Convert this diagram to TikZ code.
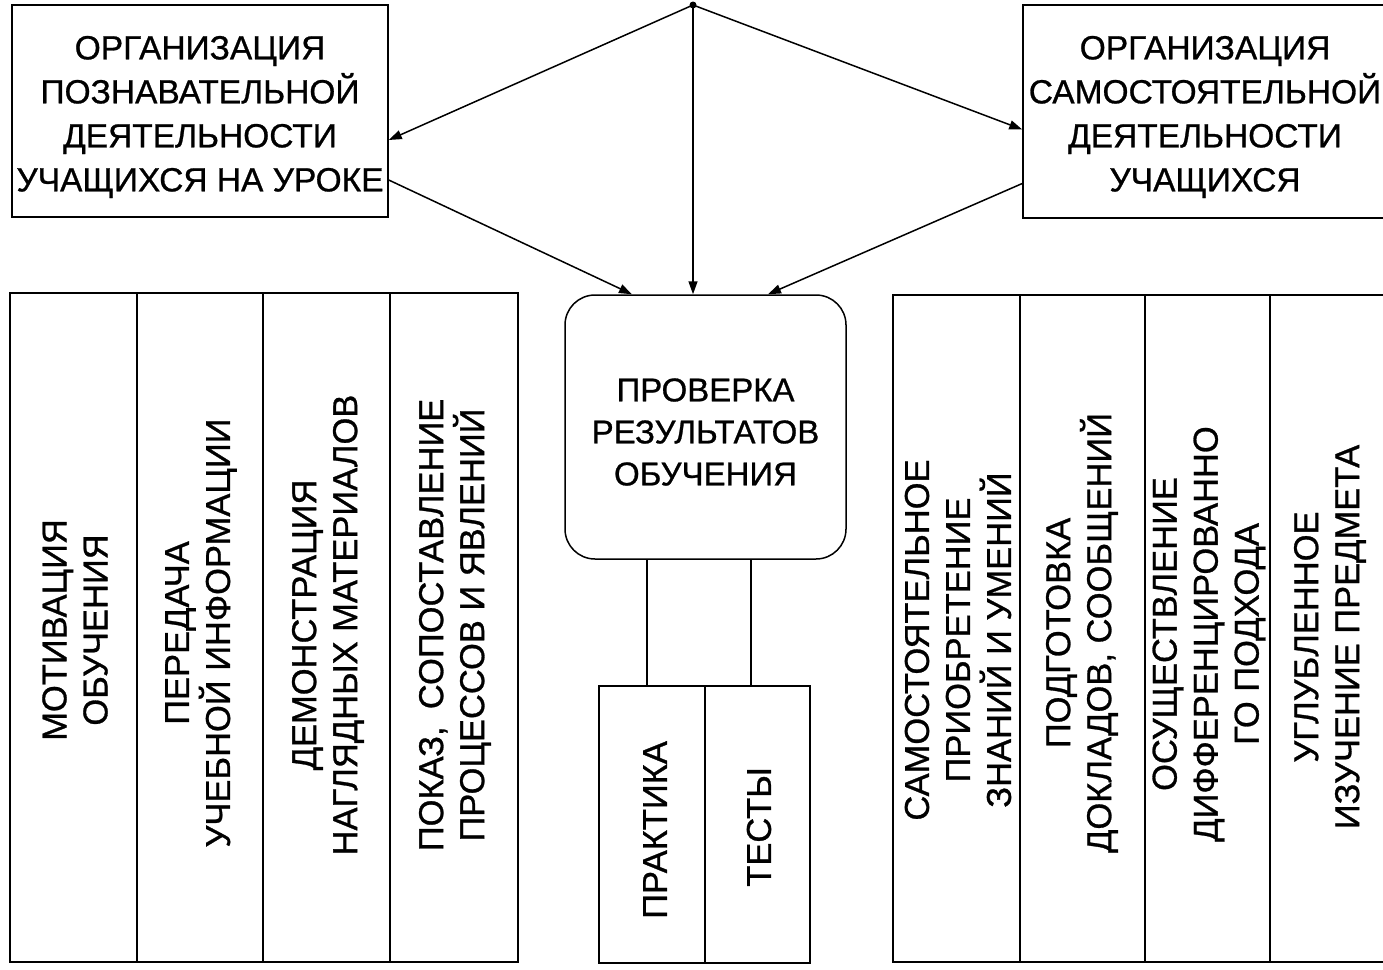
\documentclass[tikz,border=0pt]{standalone}
\usepackage{fontspec}
\setmainfont{Liberation Sans}[FakeBold=0.8]
\usetikzlibrary{arrows.meta}
\begin{document}
\begin{tikzpicture}[x=1pt,y=-1pt,
  box/.style={draw, line width=1.5pt, inner sep=0pt},
  txt/.style={font=\fontsize{33.5}{44}\selectfont, align=center},
  ctxt/.style={font=\fontsize{33}{42}\selectfont, align=center},
  vtxt/.style={font=\fontsize{34.5}{41}\selectfont, align=center, rotate=90, inner sep=0pt},
  conn/.style={line width=1.5pt},
  arr/.style={conn, -{Triangle[length=13pt,width=9pt]}}]
\useasboundingbox (0,0) rectangle (1383,969);
% top boxes
\node[box, minimum width=376pt, minimum height=212pt] (tl) at (200,111) {};
\node[txt] at (200,117) {ОРГАНИЗАЦИЯ\\ПОЗНАВАТЕЛЬНОЙ\\ДЕЯТЕЛЬНОСТИ\\УЧАЩИХСЯ НА УРОКЕ};
\node[box, minimum width=362pt, minimum height=213pt] (tr) at (1204,111.5) {};
\node[txt] at (1205,117) {ОРГАНИЗАЦИЯ\\САМОСТОЯТЕЛЬНОЙ\\ДЕЯТЕЛЬНОСТИ\\УЧАЩИХСЯ};
% origin dot
\coordinate (o) at (693,5);
\fill (o) circle (3.5pt);
% center box
\node[box, rounded corners=30pt, minimum width=281pt, minimum height=264pt] (c) at (705.5,427) {};
\node[ctxt] at (705.5,432) {ПРОВЕРКА\\РЕЗУЛЬТАТОВ\\ОБУЧЕНИЯ};
% practice / tests
\node[box, minimum width=106pt, minimum height=277pt] (p1) at (652,824.5) {};
\node[box, minimum width=105pt, minimum height=277pt] (p2) at (757.5,824.5) {};
\node[vtxt] at (655,830) {ПРАКТИКА};
\node[vtxt] at (759,827) {ТЕСТЫ};
\draw[conn] (c.south -| 647,0) -- (p1.north -| 647,0);
\draw[conn] (c.south -| 751,0) -- (p2.north -| 751,0);
% arrows
\draw[arr] (o) -- ([yshift=-29pt]tl.east);
\draw[arr] (o) -- ([yshift=-18pt]tr.west);
\draw[arr] (o) -- (c.north -| o);
\draw[arr] ([yshift=-69pt]tl.east) -- (c.north -| 632,0);
\draw[arr] ([yshift=-72pt]tr.west) -- (c.north -| 768,0);
% left columns
\node[box, minimum width=127pt, minimum height=669pt] (l1) at (73.5,627.5) {};
\node[box, minimum width=126pt, minimum height=669pt] (l2) at (200,627.5) {};
\node[box, minimum width=127pt, minimum height=669pt] (l3) at (326.5,627.5) {};
\node[box, minimum width=128pt, minimum height=669pt] (l4) at (454,627.5) {};
\node[vtxt] at (75,630) {МОТИВАЦИЯ\\ОБУЧЕНИЯ};
\node[vtxt] at (201,633) {ПЕРЕДАЧА\\УЧЕБНОЙ ИНФОРМАЦИИ};
\node[vtxt] at (328,625) {ДЕМОНСТРАЦИЯ\\НАГЛЯДНЫХ МАТЕРИАЛОВ};
\node[vtxt] at (455,625) {ПОКАЗ,\enspace СОПОСТАВЛЕНИЕ\\ПРОЦЕССОВ И ЯВЛЕНИЙ};
% right columns
\node[box, minimum width=127pt, minimum height=667pt] (r1) at (956.5,628.5) {};
\node[box, minimum width=125pt, minimum height=667pt] (r2) at (1082.5,628.5) {};
\node[box, minimum width=125pt, minimum height=667pt] (r3) at (1207.5,628.5) {};
\node[box, minimum width=115pt, minimum height=667pt] (r4) at (1327.5,628.5) {};
\node[vtxt] at (958,640) {САМОСТОЯТЕЛЬНОЕ\\ПРИОБРЕТЕНИЕ\\ЗНАНИЙ И УМЕНИЙ};
\node[vtxt] at (1082,633) {ПОДГОТОВКА\\ДОКЛАДОВ, СООБЩЕНИЙ};
\node[vtxt] at (1209,634) {ОСУЩЕСТВЛЕНИЕ\\ДИФФЕРЕНЦИРОВАННО\\ГО ПОДХОДА};
\node[vtxt] at (1330,637) {УГЛУБЛЕННОЕ\\ИЗУЧЕНИЕ ПРЕДМЕТА};
\end{tikzpicture}
\end{document}
